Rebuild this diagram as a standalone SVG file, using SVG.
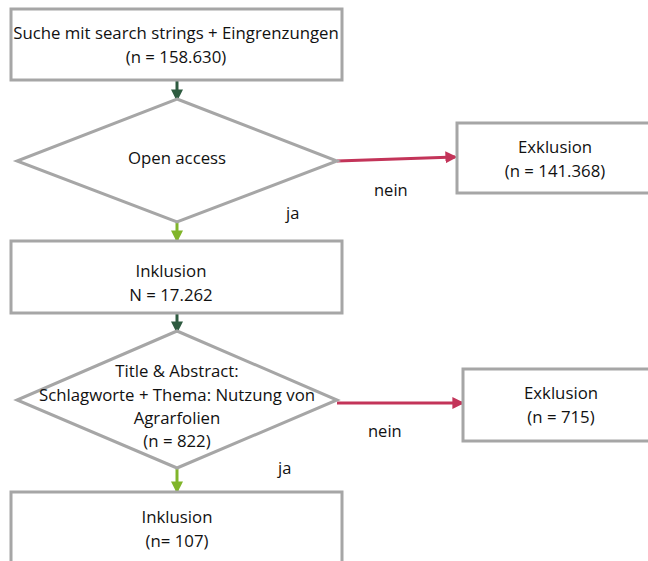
<svg xmlns="http://www.w3.org/2000/svg" width="648" height="561" viewBox="0 0 648 561">
<defs>
<style>
.box{fill:#fff;stroke:#a6a6a6;stroke-width:3}
.t{font-family:"Open Sans",sans-serif;font-size:16.8px;fill:#111;text-anchor:middle}
.lbl{font-family:"Open Sans",sans-serif;font-size:16.5px;fill:#111}
.dg{stroke:#2e5b40;stroke-width:3;fill:none}
.lg{stroke:#80b52a;stroke-width:3;fill:none}
.rd{stroke:#c33459;stroke-width:3;fill:none}
</style>
<marker id="mdg" markerWidth="4" markerHeight="4" refX="3.2" refY="2" orient="auto" markerUnits="strokeWidth"><path d="M0,0 L4,2 L0,4 z" fill="#2e5b40"/></marker>
<marker id="mlg" markerWidth="4" markerHeight="4" refX="3.2" refY="2" orient="auto" markerUnits="strokeWidth"><path d="M0,0 L4,2 L0,4 z" fill="#80b52a"/></marker>
<marker id="mrd" markerWidth="4" markerHeight="4" refX="3.2" refY="2" orient="auto" markerUnits="strokeWidth"><path d="M0,0 L4,2 L0,4 z" fill="#c33459"/></marker>
</defs>
<rect width="648" height="561" fill="#fff"/>
<g id="connectors">
<line class="dg" x1="177" y1="81" x2="177" y2="99" marker-end="url(#mdg)"/>
<line class="rd" x1="337" y1="161" x2="455" y2="157" marker-end="url(#mrd)"/>
<line class="lg" x1="177" y1="222" x2="177" y2="240" marker-end="url(#mlg)"/>
<line class="dg" x1="177" y1="313" x2="177" y2="331" marker-end="url(#mdg)"/>
<line class="rd" x1="337" y1="403" x2="462" y2="403" marker-end="url(#mrd)"/>
<line class="lg" x1="177" y1="468" x2="177" y2="491" marker-end="url(#mlg)"/>
<text class="lbl" x="374" y="196">nein</text>
<text class="lbl" x="286" y="219">ja</text>
<text class="lbl" x="368" y="437">nein</text>
<text class="lbl" x="278" y="474">ja</text>
</g>
<g id="n1">
<rect class="box" x="11" y="9" width="331" height="71"/>
<text class="t" x="176" y="39">Suche mit search strings + Eingrenzungen</text>
<text class="t" x="176" y="63">(n = 158.630)</text>
</g>
<g id="d1">
<polygon class="box" points="177,99 337,161 177,222 17,161"/>
<text class="t" x="177" y="164">Open access</text>
</g>
<g id="e1">
<rect class="box" x="457" y="123" width="200" height="70"/>
<text class="t" x="555" y="153">Exklusion</text>
<text class="t" x="555" y="177">(n = 141.368)</text>
</g>
<g id="n2">
<rect class="box" x="11" y="241" width="331" height="72"/>
<text class="t" x="171" y="277">Inklusion</text>
<text class="t" x="171" y="301">N = 17.262</text>
</g>
<g id="d2">
<polygon class="box" points="177,331 337,400 177,468 17,400"/>
<text class="t" x="177" y="377">Title &amp; Abstract:</text>
<text class="t" x="177" y="401">Schlagworte + Thema: Nutzung von</text>
<text class="t" x="177" y="424">Agrarfolien</text>
<text class="t" x="177" y="447">(n = 822)</text>
</g>
<g id="e2">
<rect class="box" x="463" y="369" width="200" height="72"/>
<text class="t" x="561" y="399">Exklusion</text>
<text class="t" x="561" y="423">(n = 715)</text>
</g>
<g id="n3">
<rect class="box" x="11" y="492" width="331" height="80"/>
<text class="t" x="177" y="523">Inklusion</text>
<text class="t" x="177" y="547">(n= 107)</text>
</g>
</svg>
